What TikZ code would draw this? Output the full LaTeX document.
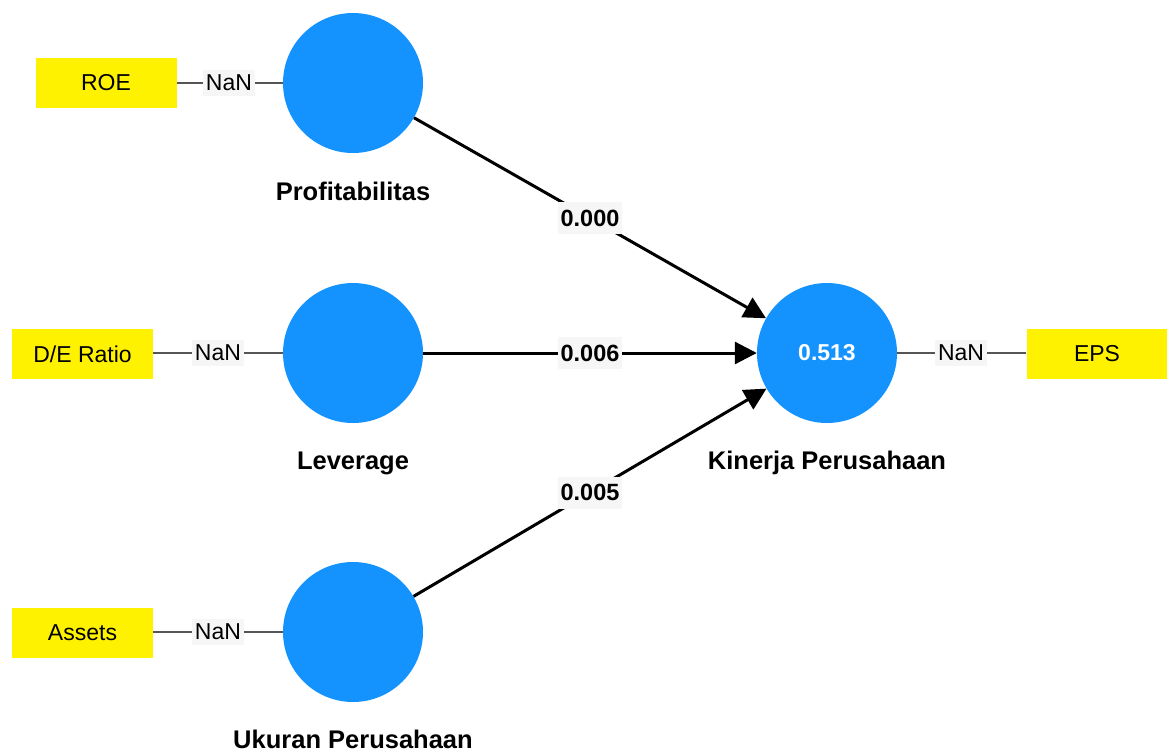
\documentclass[tikz,border=0pt]{standalone}
\usepackage{fontspec}
\setmainfont{Liberation Sans}
\usetikzlibrary{arrows.meta}
\definecolor{lvblue}{RGB}{20,147,255}
\definecolor{lblbg}{RGB}{246,246,246}
\definecolor{indline}{RGB}{85,85,85}
\begin{document}
\begin{tikzpicture}[x=1pt,y=-1pt,
  lv/.style={circle,fill=lvblue,minimum size=140pt,inner sep=0pt,text=white,font=\fontsize{23}{23}\selectfont\bfseries},
  ind/.style={fill=yellow,minimum width=141pt,minimum height=50pt,inner sep=0pt,font=\fontsize{23}{23}\selectfont},
  nanlbl/.style={fill=lblbg,inner xsep=3pt,inner ysep=5pt,font=\fontsize{23}{23}\selectfont},
  lvname/.style={font=\fontsize{25.5}{25.5}\selectfont\bfseries},
  plabel/.style={fill=lblbg,inner xsep=3pt,minimum height=32pt,font=\fontsize{23.5}{23.5}\selectfont\bfseries},
  indconn/.style={draw=indline,line width=2pt},
  pathconn/.style={draw=black,line width=3pt,-{Triangle[length=22pt,width=22pt]}}]
\useasboundingbox (0,0) rectangle (1167,753);

% latent variables
\node[lv] (prof) at (353,83) {};
\node[lv] (lev) at (353,353) {};
\node[lv] (uk) at (353,632) {};
\node[lv] (kin) at (827,353) {0.513};

% names
\node[lvname] (profn) at (353,191) {Profitabilitas};
\node[lvname] (levn) at (353,463) {Leverage};
\node[lvname] (ukn) at (353,739) {Ukuran Perusahaan};
\node[lvname] (kinn) at (827,463) {Kinerja Perusahaan};

% indicators
\node[ind] (roe) at (106,83) {ROE};
\node[ind] (de) at (82.5,354) {D/E Ratio};
\node[ind] (as) at (82.5,633) {Assets};
\node[ind] (eps) at (1097,354) {EPS};

% loadings labels
\node[nanlbl] (n1) at (229,83) {NaN};
\node[nanlbl] (n2) at (218,353) {NaN};
\node[nanlbl] (n3) at (218,632) {NaN};
\node[nanlbl] (n4) at (961,353) {NaN};

\draw[indconn] (roe) -- (n1) -- (prof);
\draw[indconn] (de.east |- lev) -- (n2) -- (lev);
\draw[indconn] (as.east |- uk) -- (n3) -- (uk);
\draw[indconn] (kin) -- (n4) -- (eps.west |- kin);

% structural paths
\draw[pathconn] (prof) -- node[plabel]{0.000} (kin);
\draw[pathconn] (lev) -- node[plabel]{0.006} (kin);
\draw[pathconn] (uk) -- node[plabel]{0.005} (kin);
\end{tikzpicture}
\end{document}
